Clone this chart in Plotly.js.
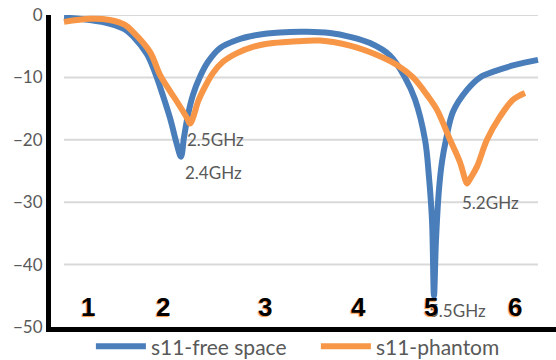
<!DOCTYPE html>
<html>
<head>
<meta charset="utf-8">
<script src="https://cdn.plot.ly/plotly-3.0.1.min.js"></script>
<style>
  html, body { margin: 0; padding: 0; background: #ffffff; }
  #chart { width: 556px; height: 360px; }
</style>
</head>
<body>
<div id="chart"></div>
<script>
// ---- data ----
const seriesNames = ["s11-free space", "s11-phantom"];

const freqFree = [0.678, 0.985, 1.222, 1.399, 1.494, 1.660, 1.754, 1.814, 1.932, 2.015, 2.062, 2.098, 2.145, 2.204, 2.287, 2.382, 2.524, 2.725, 2.962, 3.234, 3.553, 3.825, 4.062, 4.299, 4.536, 4.713, 4.831, 4.950, 4.997, 5.033, 5.056, 5.080, 5.115, 5.151, 5.198, 5.281, 5.447, 5.601, 5.778, 6.015, 6.287];
const s11Free = [-0.4, -0.8, -1.4, -2.3, -3.4, -6.3, -9.2, -11.5, -16.5, -20.8, -22.7, -19.6, -16.0, -12.8, -9.9, -7.5, -5.3, -4.0, -3.2, -2.8, -2.7, -2.9, -3.5, -4.5, -6.5, -10.0, -13.5, -20.0, -26.0, -33.0, -45.0, -36.0, -28.0, -23.5, -20.0, -15.5, -12.0, -10.0, -9.0, -8.0, -7.2];

const freqPhantom = [0.678, 0.985, 1.222, 1.399, 1.494, 1.695, 1.814, 1.932, 2.015, 2.133, 2.169, 2.216, 2.263, 2.346, 2.441, 2.559, 2.725, 2.914, 3.151, 3.435, 3.707, 4.062, 4.382, 4.618, 4.808, 4.973, 5.092, 5.246, 5.364, 5.423, 5.447, 5.482, 5.565, 5.683, 5.837, 5.991, 6.133];
const s11Phantom = [-1.1, -0.6, -0.8, -1.6, -2.7, -5.9, -9.6, -12.2, -13.9, -16.5, -17.4, -16.0, -13.9, -11.5, -9.3, -7.5, -6.1, -5.1, -4.5, -4.2, -4.1, -4.9, -6.4, -8.0, -10.0, -12.8, -15.2, -20.0, -23.6, -26.3, -27.0, -26.3, -24.3, -20.0, -16.3, -13.6, -12.5];

// x labels drawn inside the plot (hand-placed in the original)
const xLabelText = ["1", "2", "3", "4", "5", "6"];
const xLabelPos  = [0.962, 1.849, 3.056, 4.157, 5.021, 6.015];

const yTickVals = [0, -10, -20, -30, -40, -50];

// resonance call-outs
const markText = ["2.5GHz", "2.4GHz", "5.2GHz", "5.5GHz"];
const markX    = [2.476, 2.441, 5.719, 5.34];
const markY    = [-19.9, -25.2, -30.0, -47.4];

// ---- chart ----
const BLUE = "#4a7ebb", ORANGE = "#f79646", GREY = "#595959";

const traces = [
  { x: freqFree, y: s11Free, name: seriesNames[0], type: "scatter", mode: "lines",
    line: { color: BLUE, width: 6, shape: "spline", smoothing: 1 } },
  { x: freqPhantom, y: s11Phantom, name: seriesNames[1], type: "scatter", mode: "lines",
    line: { color: ORANGE, width: 6, shape: "spline", smoothing: 1 } }
];

const gridShapes = yTickVals.filter(v => v > -50).map(v => ({
  type: "line", xref: "x", yref: "y",
  x0: 0.678, x1: 6.287, y0: v, y1: v,
  line: { color: "#d9d9d9", width: 2 }, layer: "below"
}));

const annotations = [];
markText.forEach((t, i) => annotations.push({
  x: markX[i], y: markY[i], xref: "x", yref: "y", text: t, showarrow: false,
  font: { family: "Lato, sans-serif", size: 17, color: GREY }
}));
xLabelText.forEach((t, i) => annotations.push({
  x: xLabelPos[i], y: -46.8, xref: "x", yref: "y", text: t, showarrow: false,
  font: { family: "Liberation Sans, Arial, sans-serif", size: 26, color: "#000000",
          weight: "bold", shadow: "-1px 1px 1px #f79646" }
}));

const layout = {
  width: 556, height: 360,
  margin: { l: 51, r: 0, t: 15, b: 33, pad: 0, autoexpand: false },
  paper_bgcolor: "#ffffff", plot_bgcolor: "#ffffff",
  showlegend: true,
  legend: {
    orientation: "h", x: 0.079, xanchor: "left", y: -0.063, yanchor: "middle",
    font: { family: "Lato, sans-serif", size: 21, color: GREY },
    itemwidth: 50, entrywidth: 160, entrywidthmode: "pixels",
    bgcolor: "rgba(0,0,0,0)"
  },
  xaxis: {
    range: [0.524, 6.5], showgrid: false, zeroline: false,
    showticklabels: false, ticks: "",
    showline: true, linecolor: "#000000", linewidth: 5
  },
  yaxis: {
    range: [-50, 0], tickvals: yTickVals, showgrid: false, zeroline: false,
    ticks: "", showline: true, linecolor: "#000000", linewidth: 5,
    tickfont: { family: "Lato, sans-serif", size: 17, color: GREY }
  },
  shapes: gridShapes,
  annotations: annotations
};

Plotly.newPlot("chart", traces, layout, { staticPlot: true, displayModeBar: false });
</script>
</body>
</html>
